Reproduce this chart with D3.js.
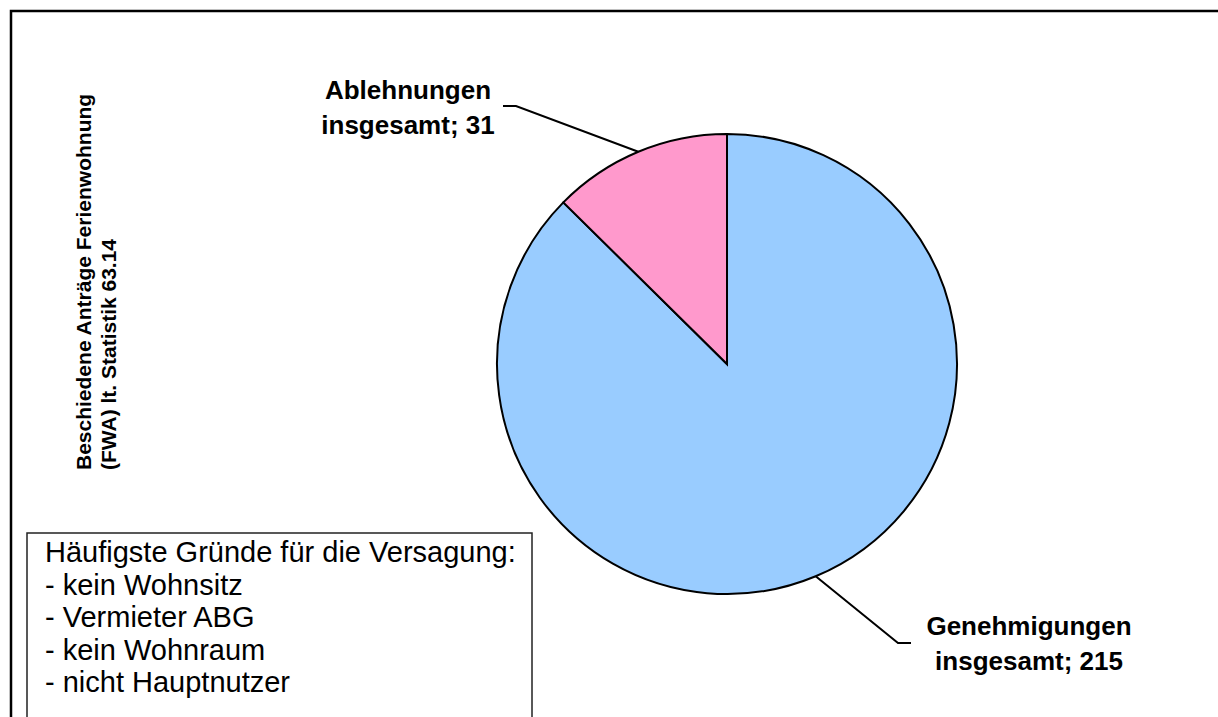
<!DOCTYPE html>
<html>
<head>
<meta charset="utf-8">
<script src="https://cdn.jsdelivr.net/npm/d3@7"></script>
<style>
  body { margin: 0; background: #fff; }
  svg text { font-family: Arial, "Liberation Sans", sans-serif; fill: #000; }
</style>
</head>
<body>
<div id="chart"></div>
<script>
const containerWidth = 1218;
const containerHeight = 717;

// data
const categories = ["Genehmigungen insgesamt", "Ablehnungen insgesamt"];
const values = [215, 31];
const colors = ["#99CCFF", "#FF99CC"];
const axisTitle = ["Beschiedene Anträge Ferienwohnung", "(FWA) lt. Statistik 63.14"];
const noteLines = ["Häufigste Gründe für die Versagung:", "- kein Wohnsitz", "- Vermieter ABG", "- kein Wohnraum", "- nicht Hauptnutzer"];

const svg = d3.select("#chart")
  .append("svg")
  .attr("width", containerWidth)
  .attr("height", containerHeight);

// outer frame (runs off the bottom/right like the original)
svg.append("rect")
  .attr("x", 11).attr("y", 11)
  .attr("width", 1240).attr("height", 740)
  .attr("fill", "#fff")
  .attr("stroke", "#000")
  .attr("stroke-width", 2.5);

// pie
const cx = 727, cy = 364, radius = 230;
const pie = d3.pie().sort(null).value(d => d.value);
const arc = d3.arc().innerRadius(0).outerRadius(radius);
const slices = pie(categories.map((c, i) => ({ name: c, value: values[i] })));

const pieG = svg.append("g").attr("transform", `translate(${cx},${cy})`);
pieG.selectAll("path")
  .data(slices)
  .enter()
  .append("path")
  .attr("d", arc)
  .attr("fill", (d, i) => colors[i])
  .attr("stroke", "#000")
  .attr("stroke-width", 2);

// labels with leader lines
const labelPos = [
  { x: 1029, y: 635, elbow: [898, 643], end: [911, 643] },
  { x: 408, y: 99, elbow: [516, 106], end: [503, 106] }
];

slices.forEach((s, i) => {
  const mid = (s.startAngle + s.endAngle) / 2;
  const px = cx + radius * Math.sin(mid);
  const py = cy - radius * Math.cos(mid);
  const lp = labelPos[i];
  svg.append("polyline")
    .attr("points", [[px, py], lp.elbow, lp.end].map(p => p.join(",")).join(" "))
    .attr("fill", "none")
    .attr("stroke", "#000")
    .attr("stroke-width", 2);

  const words = categories[i].split(" ");
  const t = svg.append("text")
    .attr("x", lp.x).attr("y", lp.y)
    .attr("text-anchor", "middle")
    .style("font-size", "26px")
    .style("font-weight", "bold");
  t.append("tspan").attr("x", lp.x).attr("y", lp.y).text(words[0]);
  t.append("tspan").attr("x", lp.x).attr("y", lp.y + 35).text(words[1] + "; " + values[i]);
});

// rotated title
const title = svg.append("text")
  .attr("transform", "translate(91,470) rotate(-90)")
  .style("font-size", "21px")
  .style("font-weight", "bold");
axisTitle.forEach((line, i) => {
  title.append("tspan").attr("x", 0).attr("y", i * 25).text(line);
});

// note box
svg.append("rect")
  .attr("x", 27).attr("y", 533)
  .attr("width", 505).attr("height", 200)
  .attr("fill", "#fff")
  .attr("stroke", "#222")
  .attr("stroke-width", 1.5);

const note = svg.append("text").style("font-size", "29px");
noteLines.forEach((line, i) => {
  note.append("tspan").attr("x", 45).attr("y", 562 + i * 32.5).text(line);
});
</script>
</body>
</html>
